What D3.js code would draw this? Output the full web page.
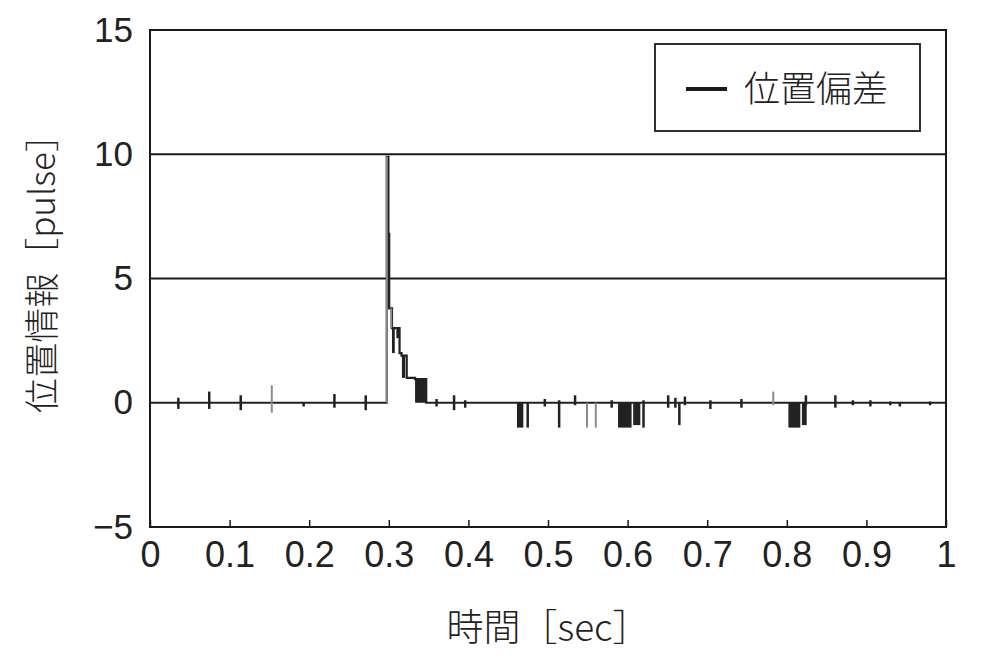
<!DOCTYPE html>
<html>
<head>
<meta charset="utf-8">
<script src="https://cdn.jsdelivr.net/npm/d3@7"></script>
<style>
  body { margin: 0; background: #fff; }
  text { font-family: "Liberation Sans", Arial, "Noto Sans CJK JP", sans-serif; fill: #222; }
  .cjk { font-family: "Noto Sans CJK JP", "Noto Sans CJK SC", sans-serif; font-weight: 300; }
</style>
</head>
<body>
<svg id="chart" width="1000" height="663"></svg>
<script>
// axis ticks
const xTicks = [0, 0.1, 0.2, 0.3, 0.4, 0.5, 0.6, 0.7, 0.8, 0.9, 1];
const yTicks = [-5, 0, 5, 10, 15];
const gridValues = [5, 10];

// main trace, step after (time, value)
const traceT = [0, 0.2975, 0.2995, 0.3005, 0.3040, 0.3135, 0.3160, 0.3225, 0.3330, 0.3470, 1];
const traceV = [0, 9.9, 6.8, 3.8, 3.0, 2.0, 1.9, 1.0, 0.95, 0, 0];

// dense oscillation blocks (start, end, low, high)
const bandT0 = [0.2985, 0.3040, 0.3095, 0.3165, 0.3330, 0.4610, 0.5880, 0.6070, 0.8020, 0.8190];
const bandT1 = [0.3008, 0.3075, 0.3130, 0.3205, 0.3470, 0.4690, 0.6050, 0.6160, 0.8170, 0.8250];
const bandLo = [3.8, 2.0, 2.6, 1.0, 0.0, -1.0, -1.0, -0.9, -1.0, -0.9];
const bandHi = [6.8, 3.0, 3.0, 1.9, 0.95, 0.0, 0.0, 0.0, 0.0, 0.0];

// short noise spikes, dark
const darkT  = [0.0356, 0.0744, 0.114, 0.193, 0.2317, 0.271, 0.360, 0.382, 0.396, 0.4745, 0.496, 0.514, 0.534, 0.580, 0.620, 0.651, 0.660, 0.665, 0.672, 0.704, 0.743, 0.824, 0.861, 0.883, 0.905, 0.930, 0.942, 0.980];
const darkLo = [-0.25, -0.25, -0.3, -0.15, -0.2, -0.3, -0.15, -0.3, -0.2, -1.0, -0.15, -1.0, -0.1, -0.2, -1.0, -0.2, -0.2, -0.9, -0.1, -0.25, -0.2, -0.1, -0.2, -0.1, -0.15, -0.1, -0.15, -0.1];
const darkHi = [0.2, 0.45, 0.3, 0.02, 0.35, 0.3, 0.15, 0.3, 0.1, 0.0, 0.15, 0.1, 0.3, 0.1, 0.1, 0.3, 0.2, 0.0, 0.25, 0.1, 0.15, 0.3, 0.3, 0.1, 0.1, 0.05, 0.0, 0.05];

// noise spikes, light
const lightT  = [0.153, 0.2975, 0.3030, 0.549, 0.560, 0.783];
const lightLo = [-0.4, 0.0, 3.0, -1.0, -1.0, -0.1];
const lightHi = [0.7, 9.9, 3.8, 0.0, 0.0, 0.45];

const legendLabel = "位置偏差";
const xTitle = "時間［sec］";
const yTitle = "位置情報［pulse］";

const svg = d3.select("#chart");
const mLeft = 150, mRight = 946, mTop = 30, mBottom = 527;

const x = d3.scaleLinear().domain([0, 1]).range([mLeft, mRight]);
const y = d3.scaleLinear().domain([-5, 15]).range([mBottom, mTop]);

// grid lines at 5 and 10
svg.selectAll(".grid").data(gridValues).enter().append("line")
  .attr("x1", mLeft).attr("x2", mRight)
  .attr("y1", d => y(d)).attr("y2", d => y(d))
  .attr("stroke", "#1a1a1a").attr("stroke-width", 2);

// x axis: inward ticks
const xAxis = svg.append("g").attr("transform", `translate(0,${mBottom})`)
  .call(d3.axisBottom(x).tickValues(xTicks).tickSizeInner(-7).tickSizeOuter(0).tickPadding(20)
    .tickFormat(d => d3.format("")(d)));
xAxis.select(".domain").remove();
xAxis.selectAll(".tick line").attr("stroke", "#1a1a1a").attr("stroke-width", 1.5);
xAxis.selectAll(".tick text").attr("font-size", 36).attr("fill", "#222")
  .attr("font-family", "Liberation Sans, Arial, sans-serif").attr("dy", "0.55em");

// y axis labels
const yAxis = svg.append("g").attr("transform", `translate(${mLeft},0)`)
  .call(d3.axisLeft(y).tickValues(yTicks).tickSize(0).tickPadding(17)
    .tickFormat(d => d < 0 ? "\u2212" + Math.abs(d) : d));
yAxis.select(".domain").remove();
yAxis.selectAll(".tick text").attr("font-size", 35).attr("fill", "#222")
  .attr("font-family", "Liberation Sans, Arial, sans-serif");

// trace
const trace = traceT.map((t, i) => [t, traceV[i]]);
svg.append("path")
  .datum(trace)
  .attr("fill", "none")
  .attr("stroke", "#222")
  .attr("stroke-width", 2.2)
  .attr("d", d3.line().x(d => x(d[0])).y(d => y(d[1])).curve(d3.curveStepAfter));

// oscillation blocks
svg.selectAll(".band").data(bandT0.map((t, i) => ({ t0: t, t1: bandT1[i], lo: bandLo[i], hi: bandHi[i] })))
  .enter().append("rect")
  .attr("x", d => x(d.t0)).attr("width", d => x(d.t1) - x(d.t0))
  .attr("y", d => y(d.hi)).attr("height", d => y(d.lo) - y(d.hi))
  .attr("fill", "#222");

// spikes
svg.selectAll(".dark").data(darkT.map((t, i) => ({ t, lo: darkLo[i], hi: darkHi[i] })))
  .enter().append("line")
  .attr("x1", d => x(d.t)).attr("x2", d => x(d.t))
  .attr("y1", d => y(d.lo)).attr("y2", d => y(d.hi))
  .attr("stroke", "#222").attr("stroke-width", 2.5);

svg.selectAll(".light").data(lightT.map((t, i) => ({ t, lo: lightLo[i], hi: lightHi[i] })))
  .enter().append("line")
  .attr("x1", d => x(d.t)).attr("x2", d => x(d.t))
  .attr("y1", d => y(d.lo)).attr("y2", d => y(d.hi))
  .attr("stroke", "#8a8a8a").attr("stroke-width", 2);

// frame
svg.append("rect")
  .attr("x", mLeft).attr("y", mTop)
  .attr("width", mRight - mLeft).attr("height", mBottom - mTop)
  .attr("fill", "none").attr("stroke", "#1a1a1a").attr("stroke-width", 2);

// legend
const lg = svg.append("g");
lg.append("rect").attr("x", 655).attr("y", 44).attr("width", 265).attr("height", 87)
  .attr("fill", "#fff").attr("stroke", "#1a1a1a").attr("stroke-width", 1.8);
lg.append("line").attr("x1", 686).attr("x2", 727).attr("y1", 89).attr("y2", 89)
  .attr("stroke", "#1a1a1a").attr("stroke-width", 4);
lg.append("text").attr("class", "cjk").attr("x", 744).attr("y", 89).attr("dy", "0.36em")
  .attr("font-size", 36).text(legendLabel);

// axis titles
svg.append("text").attr("class", "cjk")
  .attr("x", x(0.5)).attr("y", 628).attr("dy", "0.36em")
  .attr("text-anchor", "middle").attr("font-size", 37).text(xTitle);

svg.append("text").attr("class", "cjk")
  .attr("transform", "translate(42,265) rotate(-90)")
  .attr("dy", "0.36em")
  .attr("text-anchor", "middle").attr("font-size", 35).text(yTitle);
</script>
</body>
</html>
